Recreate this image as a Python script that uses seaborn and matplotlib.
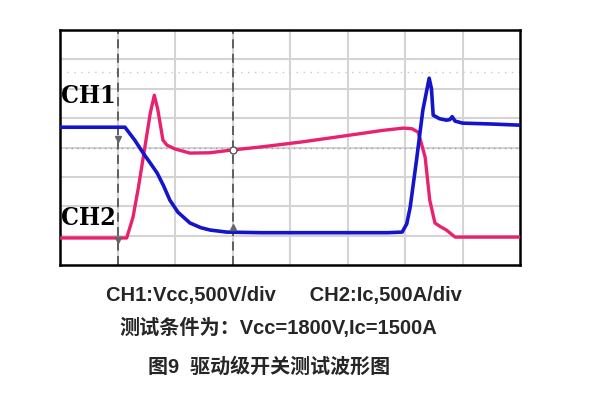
import numpy as np
import pandas as pd
import matplotlib.pyplot as plt
import seaborn as sns

# 波形数据 (x: 时间格, y: 纵向格, 0-8)
ch1_x = [0.0, 1.13, 1.30, 1.45, 1.57, 1.69, 1.80, 1.91, 2.05, 2.26, 2.45, 2.61, 2.90,
         3.5, 4.2, 5.0, 5.7, 5.95, 6.03, 6.09, 6.20, 6.31, 6.42, 6.46, 6.49, 6.60,
         6.72, 6.78, 6.82, 6.87, 7.0, 7.5, 8.0]
ch1_y = [4.69, 4.69, 4.25, 3.80, 3.47, 3.13, 2.70, 2.21, 1.80, 1.43, 1.27, 1.19, 1.12,
         1.10, 1.10, 1.10, 1.10, 1.12, 1.40, 1.97, 3.57, 5.27, 6.36, 6.00, 5.10, 4.98,
         4.93, 4.95, 5.05, 4.90, 4.83, 4.80, 4.76]

ch2_x = [0.0, 1.16, 1.27, 1.36, 1.44, 1.57, 1.64, 1.70, 1.79, 1.86, 2.0, 2.26, 2.6,
         2.97, 3.5, 4.17, 5.04, 5.6, 5.97, 6.12, 6.23, 6.35, 6.43, 6.52, 6.62, 6.72,
         6.87, 7.3, 8.0]
ch2_y = [0.92, 0.92, 1.63, 2.60, 3.57, 5.17, 5.78, 5.30, 4.25, 4.08, 3.95, 3.81, 3.82,
         3.91, 4.02, 4.18, 4.42, 4.58, 4.66, 4.64, 4.52, 3.67, 2.21, 1.43, 1.30, 1.19,
         0.95, 0.95, 0.95]

ch_labels = ['CH1', 'CH2']
ch_label_y = [5.75, 1.6]

line1 = 'CH1:Vcc,500V/div      CH2:Ic,500A/div'
line2 = '测试条件为：Vcc=1800V,Ic=1500A'
line3 = '图9  驱动级开关测试波形图'

sns.set_theme(style='white')
plt.rcParams['font.family'] = ['Liberation Sans', 'Noto Sans CJK SC', 'DejaVu Sans']

fig = plt.figure(figsize=(6, 4), dpi=100)
ax = fig.add_axes([0.1, 0.3375, 0.7667, 0.5875])

df1 = pd.DataFrame({'x': ch1_x, 'y': ch1_y})
df2 = pd.DataFrame({'x': ch2_x, 'y': ch2_y})

# 网格
for i in range(1, 8):
    ax.axvline(i, color='#d4d4d4', lw=1.5, zorder=0)
    ax.axhline(i, color='#d4d4d4', lw=1.5, zorder=0)
ax.axhline(4, color='#a0a0a0', lw=1.0, ls=(0, (1, 3)), zorder=0)
ax.axhline(6.56, color='#c8c8c8', lw=1.0, ls=(0, (1, 4)), zorder=0)

# 光标
ax.axvline(1.0, color='#555555', lw=1.3, ls=(0, (5, 3)), zorder=1)
ax.axvline(3.0, color='#555555', lw=1.3, ls=(0, (5, 3)), zorder=1)

sns.lineplot(data=df2, x='x', y='y', ax=ax, color='#e8226e', lw=2.4,
             estimator=None, sort=False, zorder=3)
sns.lineplot(data=df1, x='x', y='y', ax=ax, color='#1414cc', lw=2.6,
             estimator=None, sort=False, zorder=4)

ax.plot([1.0], [4.3], marker='v', color='#666666', ms=5, zorder=5)
ax.plot([1.0], [0.85], marker='v', color='#666666', ms=5, zorder=5)
ax.plot([3.0], [3.9], marker='o', mfc='white', mec='#555555', ms=5, zorder=5)
ax.plot([3.0], [1.3], marker='^', color='#666666', ms=5, zorder=5)

for lab, yy in zip(ch_labels, ch_label_y):
    ax.text(0.02, yy, lab, fontsize=18, family='DejaVu Serif',
            fontstretch='condensed', fontweight='bold', color='black',
            va='center', ha='left', zorder=6)

ax.set_xlim(0, 8)
ax.set_ylim(0, 8)
ax.set_xticks([])
ax.set_yticks([])
ax.set_xlabel('')
ax.set_ylabel('')
for s in ax.spines.values():
    s.set_visible(True)
    s.set_color('black')
    s.set_linewidth(1.8)

fig.text(0.474, 0.26, line1, ha='center', va='center', fontsize=14.5, fontweight='bold')
fig.text(0.464, 0.18, line2, ha='center', va='center', fontsize=14.5, fontweight='bold')
fig.text(0.448, 0.0825, line3, ha='center', va='center', fontsize=14.4, fontweight='bold')

fig.savefig('out.png', dpi=100)
